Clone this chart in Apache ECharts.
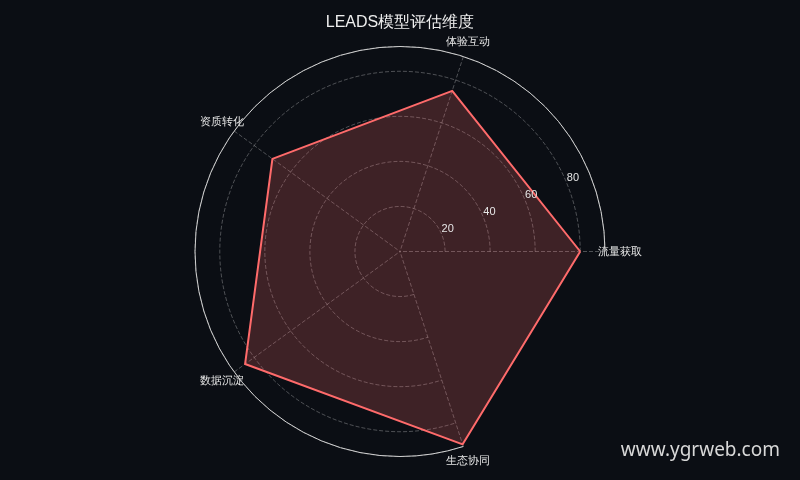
<!DOCTYPE html>
<html><head><meta charset="utf-8">
<script src="https://cdn.jsdelivr.net/npm/echarts@6/dist/echarts.min.js"></script>
<style>html,body{margin:0;padding:0;background:#0b0e14;}#c{width:800px;height:480px;}</style>
</head><body><div id="c"></div>
<script>
const titleText = 'LEADS模型评估维度';
const categories = ['流量获取', '体验互动', '资质转化', '数据沉淀', '生态协同'];
const scores = [80, 75, 70, 85, 90];
const radiusMax = 91;
const radiusInterval = 20;
const watermark = 'www.ygrweb.com';

const center = ['50%', 251.5];
const R = 205;

const chart = echarts.init(document.getElementById('c'), null, {renderer: 'canvas'});
chart.setOption({
  backgroundColor: '#0b0e14',
  title: {
    text: titleText, left: 'center', top: 10,
    textStyle: {color: '#eeeeee', fontSize: 16, fontWeight: 'normal'}
  },
  polar: [
    {center: center, radius: R},
    {center: center, radius: R}
  ],
  angleAxis: [
    {
      polarIndex: 0, type: 'category', data: categories, startAngle: 0, clockwise: false,
      boundaryGap: false,
      axisLine: {show: true, lineStyle: {color: '#d0d0d0', width: 1}},
      axisTick: {show: false}, axisLabel: {show: false},
      splitLine: {show: true, lineStyle: {color: 'rgba(255,255,255,0.28)', type: 'dashed', width: 1}},
      z: 1
    },
    {
      polarIndex: 1, type: 'value', min: 0, max: 360, startAngle: 22, clockwise: false,
      axisLine: {show: false}, axisTick: {show: false}, axisLabel: {show: false},
      splitLine: {show: false}
    }
  ],
  radiusAxis: [
    {
      polarIndex: 0, type: 'value', min: 0, max: radiusMax, interval: radiusInterval,
      axisLine: {show: false}, axisTick: {show: false}, axisLabel: {show: false},
      splitLine: {show: true, lineStyle: {color: 'rgba(255,255,255,0.28)', type: 'dashed', width: 1}}
    },
    {
      polarIndex: 1, type: 'value', min: 0, max: radiusMax, interval: radiusInterval,
      axisLine: {show: false}, axisTick: {show: false}, splitLine: {show: false},
      axisLabel: {show: true, color: '#e6e6e6', fontSize: 11, showMinLabel: false, showMaxLabel: false,
        align: 'left', margin: 6, padding: [0, 0, 0, 2]},
      z: 5
    }
  ],
  radar: {
    center: center, radius: R, startAngle: 0, shape: 'circle', splitNumber: 4,
    indicator: categories.map(function (n) { return {name: n, max: radiusMax}; }),
    nameGap: 15,
    axisName: {color: '#e6e6e6', fontSize: 11, align: 'center', verticalAlign: 'middle'},
    splitLine: {show: false}, splitArea: {show: false}, axisLine: {show: false},
    axisTick: {show: false}, axisLabel: {show: false}
  },
  series: [{
    type: 'radar', symbol: 'none', z: 3,
    lineStyle: {color: '#ff6b6b', width: 2},
    areaStyle: {color: 'rgba(255,107,107,0.3)'},
    data: [{value: scores, name: titleText}]
  }],
  graphic: [{
    type: 'text', right: 20, bottom: 20,
    style: {text: watermark, fill: '#d8d8d8', fontSize: 19, fontFamily: 'Noto Sans'}
  }]
});
</script>
</body></html>
